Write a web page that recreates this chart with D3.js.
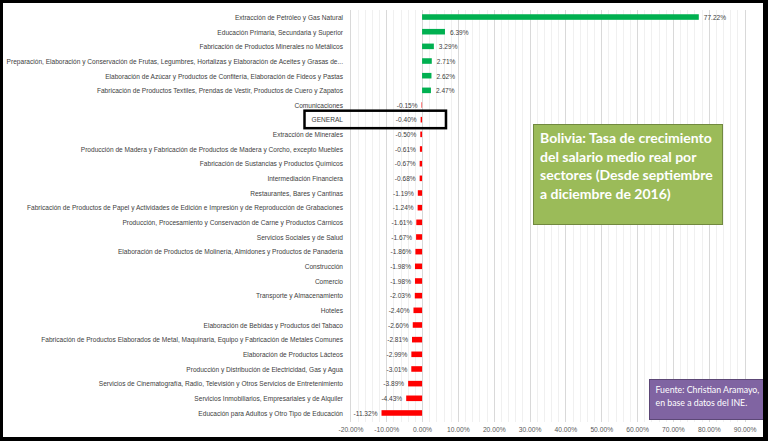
<!DOCTYPE html>
<html><head><meta charset="utf-8">
<script src="https://cdn.jsdelivr.net/npm/d3@7"></script>
<style>html,body{margin:0;padding:0;background:#000;}svg{display:block;}</style>
</head><body>
<svg id="c" width="768" height="441"></svg>
<script>
const categories = [
"Extracción de Petróleo y Gas Natural",
"Educación Primaria, Secundaria y Superior",
"Fabricación de Productos Minerales no Metálicos",
"Preparación, Elaboración y Conservación de Frutas, Legumbres, Hortalizas y Elaboración de Aceites y Grasas de...",
"Elaboración de Azúcar y Productos de Confitería, Elaboración de Fideos y Pastas",
"Fabricación de Productos Textiles, Prendas de Vestir, Productos de Cuero y Zapatos",
"Comunicaciones",
"GENERAL",
"Extracción de Minerales",
"Producción de Madera y Fabricación de Productos de Madera y Corcho, excepto Muebles",
"Fabricación de Sustancias y Productos Químicos",
"Intermediación Financiera",
"Restaurantes, Bares y Cantinas",
"Fabricación de Productos de Papel y Actividades de Edición e Impresión y de Reproducción de Grabaciones",
"Producción, Procesamiento y Conservación de Carne y Productos Cárnicos",
"Servicios Sociales y de Salud",
"Elaboración de Productos de Molinería, Almidones y Productos de Panadería",
"Construcción",
"Comercio",
"Transporte y Almacenamiento",
"Hoteles",
"Elaboración de Bebidas y Productos del Tabaco",
"Fabricación de Productos Elaborados de Metal, Maquinaria, Equipo y Fabricación de Metales Comunes",
"Elaboración de Productos Lácteos",
"Producción y Distribución de Electricidad, Gas y Agua",
"Servicios de Cinematografía, Radio, Televisión y Otros Servicios de Entretenimiento",
"Servicios Inmobiliarios, Empresariales y de Alquiler",
"Educación para Adultos y Otro Tipo de Educación"
];
const values = [77.22, 6.39, 3.29, 2.71, 2.62, 2.47, -0.15, -0.40, -0.50, -0.61, -0.67, -0.68, -1.19, -1.24, -1.61, -1.67, -1.86, -1.98, -1.98, -2.03, -2.40, -2.60, -2.81, -2.99, -3.01, -3.89, -4.43, -11.32];
const xTicks = [-20, -10, 0, 10, 20, 30, 40, 50, 60, 70, 80, 90];
const minorTicks = d3.range(-20, 91, 2);
const highlight = "GENERAL";
const titleLines = ["Bolivia: Tasa de crecimiento", "del salario medio real por", "sectores (Desde septiembre", "a diciembre de 2016)"];
const sourceLines = ["Fuente: Christian Aramayo,", "en base a  datos del INE."];

const FONT = "Liberation Sans, Arial, sans-serif";
const data = categories.map((c, i) => ({c, v: values[i]}));
const svg = d3.select("#c");
svg.append("rect").attr("x", 3).attr("y", 3).attr("width", 760).attr("height", 434).attr("fill", "#fff");

// place text at (px,py) and compress horizontally by a factor (emulates a condensed font)
function place(sel, px, py, factor) {
  sel.attr("x", 0).attr("y", 0)
     .attr("transform", (d, i) => `translate(${px(d, i)},${py(d, i)}) scale(${factor},1)`);
}
function widthOf(sel, pred) {
  let w = 0;
  sel.each(function(d) { if (pred(d)) w = Math.max(w, this.getComputedTextLength()); });
  return w;
}

const x = d3.scaleLinear().domain([-20, 90]).range([350.4, 744.6]);
const y = d3.scaleBand().domain(categories).range([9.7, 420.3]).paddingInner(0.62).paddingOuter(0.31);
const gTop = 10, gBot = 422;

// gridlines
svg.append("g").selectAll("line").data(minorTicks.filter(t => t % 10 !== 0)).join("line")
  .attr("x1", d => Math.round(x(d)) + 0.5).attr("x2", d => Math.round(x(d)) + 0.5)
  .attr("y1", gTop).attr("y2", gBot).attr("stroke", "#f0f0f0").attr("stroke-width", 1);
svg.append("g").selectAll("line").data(xTicks).join("line")
  .attr("x1", d => Math.round(x(d)) + 0.5).attr("x2", d => Math.round(x(d)) + 0.5)
  .attr("y1", gTop).attr("y2", gBot).attr("stroke", "#d9d9d9").attr("stroke-width", 1);

// axis labels
const ax = d3.axisBottom(x).tickValues(xTicks).tickSize(0).tickPadding(0).tickFormat(d => d.toFixed(2) + "%");
const axg = svg.append("g").attr("transform", `translate(0,${426})`).call(ax);
axg.select(".domain").remove();
const tickTexts = axg.selectAll("text").attr("font-family", FONT).attr("font-size", 8).attr("fill", "#595959");
const tw = widthOf(tickTexts, d => d === -20);
tickTexts.attr("transform", `scale(${25 / tw},1)`);

// bars
svg.append("g").selectAll("rect").data(data).join("rect")
  .attr("x", d => x(Math.min(0, d.v))).attr("width", d => Math.abs(x(d.v) - x(0)))
  .attr("y", d => y(d.c)).attr("height", y.bandwidth())
  .attr("fill", d => d.v >= 0 ? "#00b050" : "#ff0000");

// value labels
const valTexts = svg.append("g").selectAll("text").data(data).join("text")
  .attr("dy", "0.35em")
  .attr("text-anchor", d => d.v >= 0 ? "start" : "end")
  .attr("font-family", FONT).attr("font-size", 8).attr("fill", "#404040")
  .text(d => d.v.toFixed(2) + "%");
const vw = widthOf(valTexts, d => d.v === -11.32);
place(valTexts, d => d.v >= 0 ? x(d.v) + 5 : x(d.v) - 4, d => y(d.c) + y.bandwidth() / 2, 24 / vw);

// category labels
const catTexts = svg.append("g").selectAll("text").data(data).join("text")
  .attr("dy", "0.35em")
  .attr("text-anchor", "end")
  .attr("font-family", FONT).attr("font-size", 8).attr("fill", "#404040")
  .text(d => d.c);
const cw = widthOf(catTexts, d => d.c.startsWith("Preparación"));
place(catTexts, () => 343, d => y(d.c) + y.bandwidth() / 2, 337 / cw);

// highlight box
const hy = y(highlight) + y.bandwidth() / 2;
svg.append("rect").attr("x", 304.5).attr("y", hy - 9).attr("width", 141.5).attr("height", 17.5)
  .attr("fill", "none").attr("stroke", "#000").attr("stroke-width", 2.5);

// title box
svg.append("rect").attr("x", 533.5).attr("y", 124.5).attr("width", 189).attr("height", 100)
  .attr("fill", "#9bbb59").attr("stroke", "#71893f").attr("stroke-width", 1);
const tt = svg.append("g").selectAll("text").data(titleLines).join("text")
  .attr("font-family", "Lato, sans-serif").attr("font-weight", "bold").attr("font-size", 14).attr("fill", "#fff")
  .text(d => d);
const ttw = widthOf(tt, d => d === titleLines[0]);
place(tt, () => 540, (d, i) => 143 + i * 18.5, 172 / ttw);

// source box
svg.append("rect").attr("x", 649.5).attr("y", 379.5).attr("width", 118).attr("height", 40)
  .attr("fill", "#8064a2").attr("stroke", "#5c4776").attr("stroke-width", 1);
const st = svg.append("g").selectAll("text").data(sourceLines).join("text")
  .attr("font-family", "Lato, sans-serif").attr("font-size", 9.5).attr("fill", "#fff")
  .text(d => d);
const stw = widthOf(st, d => d === sourceLines[0]);
place(st, () => 655.5, (d, i) => 393 + i * 13, 104 / stw);

// outer frame right side
svg.append("rect").attr("x", 763).attr("y", 0).attr("width", 5).attr("height", 441).attr("fill", "#000");
</script>
</body></html>
